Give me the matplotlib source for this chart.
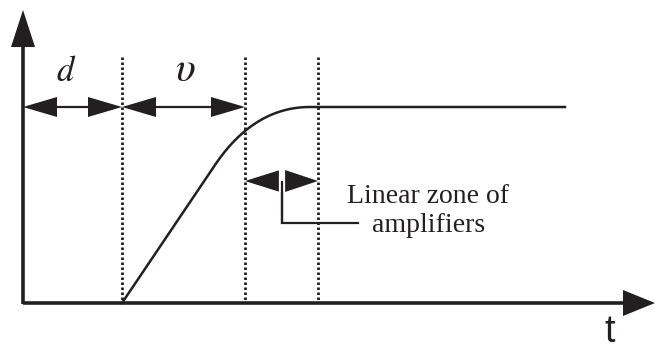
import matplotlib.pyplot as plt
import numpy as np
from matplotlib.patches import Polygon

# key positions of the schematic (pixel space, y grows downward)
origin = (23, 303)
axis_end_x = 655
axis_end_y = 10
marks_x = [122, 245, 318]          # end of d, end of v, end of linear zone
plateau_y = 107
curve_end_x = 565
bend_start = (215, 165)            # where the ramp stops being straight
bend_end_x = 310
zone_arrow_y = 181
labels = ["$d$", r"$\upsilon$"]
label_x = [66, 185]
label_size = [25, 30]
zone_text = ["Linear zone of", "amplifiers"]

ink = '#231f20'

plt.rcParams['mathtext.fontset'] = 'stix'

fig = plt.figure(figsize=(6.55, 3.51), dpi=100)
ax = fig.add_axes([0, 0, 1, 1])
ax.set_xlim(0, 655)
ax.set_ylim(351, 0)
ax.axis('off')


def head(tip, direction, length, half):
    # filled triangle arrow head, direction is a unit vector
    tx, ty = tip
    dx, dy = direction
    bx, by = tx - dx * length, ty - dy * length
    px, py = -dy, dx
    pts = [(tx, ty), (bx + px * half, by + py * half), (bx - px * half, by - py * half)]
    ax.add_patch(Polygon(pts, closed=True, color=ink, lw=0))


# axes
x0, y0 = origin
ax.plot([x0, axis_end_x - 20], [y0, y0], color=ink, lw=2.6, solid_capstyle='butt')
ax.plot([x0, x0], [y0 + 1, axis_end_y + 20], color=ink, lw=2.6, solid_capstyle='butt')
head((axis_end_x, y0), (1, 0), 32, 13)
head((x0, axis_end_y), (0, -1), 37, 12)

# dotted guides
for mx in marks_x:
    ax.plot([mx, mx], [57, y0], color=ink, lw=2.0, linestyle=(0, (0.9, 0.9)))

# response curve: straight ramp then quadratic bend into plateau
slope = (y0 - bend_start[1]) / (bend_start[0] - marks_x[0])
ctrl_x = marks_x[0] + (y0 - plateau_y) / slope
t = np.linspace(0, 1, 60)
bx = (1 - t) ** 2 * bend_start[0] + 2 * t * (1 - t) * ctrl_x + t ** 2 * bend_end_x
by = (1 - t) ** 2 * bend_start[1] + 2 * t * (1 - t) * plateau_y + t ** 2 * plateau_y
cx = np.concatenate([[marks_x[0]], bx, [curve_end_x]])
cy = np.concatenate([[y0], by, [plateau_y]])
ax.plot(cx, cy, color=ink, lw=1.8, solid_joinstyle='round')

# d and v double arrows
spans = [(x0, marks_x[0]), (marks_x[0], marks_x[1])]
for (a, b), lab, lx, ls in zip(spans, labels, label_x, label_size):
    ax.plot([a + 20, b - 20], [plateau_y, plateau_y], color=ink, lw=1.6)
    head((a, plateau_y), (-1, 0), 34, 10)
    head((b, plateau_y), (1, 0), 34, 10)
    ax.text(lx, 81, lab, ha='center', va='baseline', fontsize=ls, color=ink)

# linear zone marker
head((marks_x[1], zone_arrow_y), (-1, 0), 35, 11)
head((marks_x[2], zone_arrow_y), (1, 0), 33, 11)
ax.plot([282, 282, 358], [zone_arrow_y, 223, 223], color=ink, lw=1.6,
        solid_joinstyle='miter')
ax.plot([282, 282], [zone_arrow_y - 10, zone_arrow_y + 8], color='white', lw=4.5)
ax.plot([282, 282], [zone_arrow_y, 224], color=ink, lw=1.6, solid_capstyle='butt')

ax.text(347, 203, zone_text[0], ha='left', va='baseline', fontsize=20,
        family='Liberation Serif', color=ink)
ax.text(372, 232, zone_text[1], ha='left', va='baseline', fontsize=20,
        family='Liberation Serif', color=ink)

ax.text(610, 350, "t", ha='center', va='bottom', fontsize=27,
        family='Liberation Sans', color=ink)

fig.savefig('out.png', dpi=100)
